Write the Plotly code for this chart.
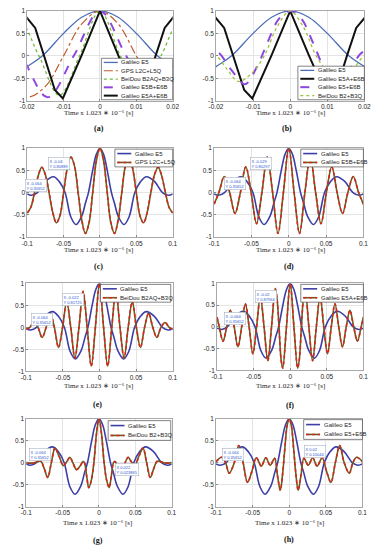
import plotly.graph_objects as go

W, H = 381, 550

# ---------------- data ----------------
E5_X = [-0.1, -0.094, -0.086, -0.075, -0.064, -0.056, -0.048, -0.04, -0.033, -0.025, -0.02, -0.0158, -0.01, -0.005, 0,
        0.005, 0.01, 0.0158, 0.02, 0.025, 0.033, 0.04, 0.048, 0.056, 0.064, 0.075, 0.086, 0.094, 0.1]
E5_Y = [-0.03, -0.06, 0.0, 0.25, 0.357, 0.25, 0.0, -0.55, -0.72, -0.53, -0.24, 0.0, 0.5, 0.86, 1.0,
        0.86, 0.5, 0.0, -0.24, -0.53, -0.72, -0.55, 0.0, 0.25, 0.357, 0.25, 0.0, -0.06, -0.03]

GPS_X = [-0.1, -0.095, -0.09, -0.085, -0.08, -0.075, -0.07, -0.065, -0.06, -0.055, -0.05, -0.045, -0.04, -0.035,
         -0.03, -0.025, -0.02, -0.015, -0.01, -0.005, 0, 0.005, 0.01, 0.015, 0.02, 0.025, 0.03, 0.035, 0.04, 0.045,
         0.05, 0.055, 0.06, 0.065, 0.07, 0.075, 0.08, 0.085, 0.09, 0.095, 0.1]
GPS_Y = [-0.46, -0.33, 0.0, 0.37, 0.57, 0.40, 0.0, -0.44, -0.68, -0.52, 0.0, 0.54, 0.80, 0.60,
         0.0, -0.62, -0.92, -0.68, 0.0, 0.71, 1.0, 0.71, 0.0, -0.68, -0.92, -0.62, 0.0, 0.60, 0.80, 0.54,
         0.0, -0.52, -0.68, -0.44, 0.0, 0.40, 0.57, 0.37, 0.0, -0.33, -0.46]

E5B_E6B_X = [-0.1, -0.0936, -0.0864, -0.0792, -0.072, -0.0648, -0.0576, -0.0504, -0.0432, -0.036, -0.0288, -0.0216,
             -0.0144, -0.0072, 0, 0.0072, 0.0144, 0.0216, 0.0288, 0.036, 0.0432, 0.0504, 0.0576, 0.0648, 0.072,
             0.0792, 0.0864, 0.0936, 0.1]
E5B_E6B_Y = [-0.26, 0.0, 0.36, 0.0, -0.47, 0.0, 0.58, 0.0, -0.70, 0.0, 0.80, 0.0,
             -0.92, 0.0, 1.0, 0.0, -0.92, 0.0, 0.80, 0.0, -0.70, 0.0, 0.58, 0.0, -0.47,
             0.0, 0.36, 0.0, -0.26]

B2AQ_B3Q_X = [-0.1, -0.0952, -0.0896, -0.084, -0.0784, -0.0728, -0.0672, -0.0616, -0.056, -0.0504, -0.0448, -0.0392,
              -0.0336, -0.028, -0.0224, -0.0168, -0.0112, -0.0056, 0, 0.0056, 0.0112, 0.0168, 0.0224, 0.028, 0.0336,
              0.0392, 0.0448, 0.0504, 0.056, 0.0616, 0.0672, 0.0728, 0.0784, 0.084, 0.0896, 0.0952, 0.1]
B2AQ_B3Q_Y = [-0.04, 0.0, 0.11, 0.0, -0.23, 0.0, 0.32, 0.0, -0.46, 0.0, 0.58, 0.0,
              -0.70, 0.0, 0.82, 0.0, -0.88, 0.0, 1.0, 0.0, -0.88, 0.0, 0.82, 0.0, -0.70,
              0.0, 0.58, 0.0, -0.46, 0.0, 0.32, 0.0, -0.23, 0.0, 0.11, 0.0, -0.04]

E5A_E6B_X = [-0.1, -0.0969, -0.0918, -0.0867, -0.0816, -0.0765, -0.0714, -0.0663, -0.0612, -0.0561, -0.051, -0.0459,
             -0.0408, -0.0357, -0.0306, -0.0255, -0.0204, -0.0178, -0.0153, -0.0124, -0.0102, -0.0051, 0,
             0.0051, 0.0102, 0.0124, 0.0153, 0.0178, 0.0204, 0.0255, 0.0306, 0.0357, 0.0408, 0.0459, 0.051,
             0.0561, 0.0612, 0.0663, 0.0714, 0.0765, 0.0816, 0.0867, 0.0918, 0.0969, 0.1]
E5A_E6B_Y = [0.22, 0.0, -0.33, 0.0, 0.38, 0.0, -0.46, 0.0, 0.53, 0.0, -0.62, 0.0,
             0.70, 0.0, -0.78, 0.0, 0.88, 0.62, 0.0, -0.76, -0.95, 0.0, 1.0,
             0.0, -0.95, -0.76, 0.0, 0.62, 0.88, 0.0, -0.78, 0.0, 0.70, 0.0, -0.62,
             0.0, 0.53, 0.0, -0.46, 0.0, 0.38, 0.0, -0.33, 0.0, 0.22]

B2_B3Q_X = [-0.1, -0.09, -0.085, -0.08, -0.075, -0.0705, -0.0655, -0.0605, -0.055, -0.049, -0.044, -0.04, -0.036,
            -0.031, -0.026, -0.022, -0.02, -0.017, -0.014, -0.0105, -0.007, -0.0035, 0,
            0.0035, 0.007, 0.0105, 0.014, 0.017, 0.02, 0.022, 0.026, 0.031, 0.036, 0.04, 0.044, 0.049, 0.055,
            0.0605, 0.0655, 0.0705, 0.075, 0.08, 0.085, 0.09, 0.1]
B2_B3Q_Y = [0.0, -0.01, 0.02, 0.03, -0.15, -0.34, 0.0, 0.33, 0.15, -0.07, 0.03, 0.12, 0.0,
            -0.16, -0.08, 0.024, 0.0, -0.30, -0.57, -0.40, 0.0, 0.65, 1.0,
            0.65, 0.0, -0.40, -0.57, -0.30, 0.0, 0.024, -0.08, -0.16, 0.0, 0.12, 0.03, -0.07, 0.15,
            0.33, 0.0, -0.34, -0.15, 0.03, 0.02, -0.01, 0.0]

E5_E6B_X = [-0.1, -0.092, -0.087, -0.082, -0.075, -0.069, -0.063, -0.057, -0.051, -0.045, -0.038, -0.032, -0.026,
            -0.02, -0.016, -0.0122, -0.009, -0.006, -0.003, 0, 0.003, 0.006, 0.009, 0.0122, 0.016, 0.02, 0.026,
            0.032, 0.038, 0.045, 0.051, 0.057, 0.063, 0.069, 0.075, 0.082, 0.087, 0.092, 0.1]
E5_E6B_Y = [0.02, 0.12, 0.0, -0.24, 0.0, 0.39, 0.0, -0.45, -0.20, 0.11, -0.08, 0.11, -0.06,
            0.10, -0.30, -0.63, -0.25, 0.32, 0.83, 1.0, 0.83, 0.32, -0.25, -0.63, -0.30, 0.10, -0.06,
            0.11, -0.08, 0.11, -0.20, -0.45, 0.0, 0.39, 0.0, -0.24, 0.0, 0.12, 0.02]

Y_TICKS = [-1, -0.5, 0, 0.5, 1]
Y_TICK_LABELS = ["-1", "-0.5", "0", "0.5", "1"]
X_TICKS_NARROW = [-0.02, -0.01, 0, 0.01, 0.02]
X_TICK_LABELS_NARROW = ["-0.02", "-0.01", "0", "0.01", "0.02"]
X_TICKS_WIDE = [-0.1, -0.05, 0, 0.05, 0.1]
X_TICK_LABELS_WIDE = ["-0.1", "-0.05", "0", "0.05", "0.1"]

SERIES = {
    "Galileo E5": (E5_X, E5_Y),
    "GPS L2C+L5Q": (GPS_X, GPS_Y),
    "BeiDou B2AQ+B3Q": (B2AQ_B3Q_X, B2AQ_B3Q_Y),
    "Galileo E5B+E6B": (E5B_E6B_X, E5B_E6B_Y),
    "Galileo E5A+E6B": (E5A_E6B_X, E5A_E6B_Y),
    "Galileo E5+E6B": (E5_E6B_X, E5_E6B_Y),
    "BeiDou B2+B3Q": (B2_B3Q_X, B2_B3Q_Y),
}

# ---------------- styles ----------------
ST = {
    "blueA": [("#4a6db8", 1.3, "solid", "spline")],
    "blue": [("#3b3fa6", 1.6, "solid", "spline")],
    "orange": [("#c05a2a", 1.2, "dashdot", "spline")],
    "green": [("#6fbb3a", 1.3, "dot", "spline")],
    "greenB": [("#9cc43a", 1.3, "dot", "spline")],
    "purple": [("#8e46e0", 2.0, "dash", "spline")],
    "black": [("#111111", 2.0, "solid", "linear")],
    "redolive": [("#6e5a20", 1.6, "solid", "spline"), ("#d3281c", 1.6, "3px,3px", "spline")],
}

PANELS = [
    dict(tag="(a)", box=(21, 172, 7, 98), narrow=True,
         series=[("Galileo E5", "blueA"), ("GPS L2C+L5Q", "orange"), ("BeiDou B2AQ+B3Q", "green"),
                 ("Galileo E5B+E6B", "purple"), ("Galileo E5A+E6B", "black")],
         legend=(98, 172, 55, 97), xl=(95, 110.5), lab=(95, 126), tips=[]),
    dict(tag="(b)", box=(217, 371, 7, 98), narrow=True,
         series=[("Galileo E5", "blueA"), ("Galileo E5A+E6B", "black"), ("Galileo E5+E6B", "purple"),
                 ("BeiDou B2+B3Q", "greenB")],
         legend=(302, 371, 63, 97), xl=(294, 110.5), lab=(291, 126), tips=[]),
    dict(tag="(c)", box=(21, 172, 146, 236), narrow=False,
         series=[("Galileo E5", "blue"), ("GPS L2C+L5Q", "redolive")],
         legend=(112, 172, 147, 165), xl=(95, 249.5), lab=(95, 266),
         tips=[(43, 155, "X -0.04<br>Y 0.80889"), (19, 177, "X -0.064<br>Y 0.35652")]),
    dict(tag="(d)", box=(215, 370, 146, 236), narrow=False,
         series=[("Galileo E5", "blue"), ("Galileo E5B+E6B", "redolive")],
         legend=(305, 370, 147, 165), xl=(294, 249.5), lab=(293, 266),
         tips=[(252, 155, "X -0.029<br>Y 0.80297"), (225, 175, "X -0.064<br>Y 0.35652")]),
    dict(tag="(e)", box=(20, 172, 283, 372), narrow=False,
         series=[("Galileo E5", "blue"), ("BeiDou B2AQ+B3Q", "redolive")],
         legend=(97, 170, 284, 302), xl=(95, 386.5), lab=(94, 406),
         tips=[(57, 293, "X -0.022<br>Y 0.81725"), (25, 313, "X -0.064<br>Y 0.35652")]),
    dict(tag="(f)", box=(218, 370, 283, 371), narrow=False,
         series=[("Galileo E5", "blue"), ("Galileo E5A+E6B", "redolive")],
         legend=(305, 370, 284, 302), xl=(294, 386.5), lab=(294, 407),
         tips=[(257, 290, "X -0.02<br>Y 0.87964"), (225, 312, "X -0.064<br>Y 0.35652")]),
    dict(tag="(g)", box=(20, 171, 420, 509), narrow=False,
         series=[("Galileo E5", "blue"), ("BeiDou B2+B3Q", "redolive")],
         legend=(105, 170, 422, 442), xl=(94, 526), lab=(94, 543),
         tips=[(23, 450, "X -0.064<br>Y 0.35652"), (112, 465, "X 0.022<br>Y 0.023865")]),
    dict(tag="(h)", box=(217, 369, 420, 509), narrow=False,
         series=[("Galileo E5", "blue"), ("Galileo E5+E6B", "redolive")],
         legend=(308, 369, 421, 441), xl=(293, 526), lab=(293, 542),
         tips=[(223, 450, "X -0.064<br>Y 0.35652"), (308, 447, "X 0.02<br>Y 0.10044")]),
]


def fx(p):
    return p / W


def fy(p):
    return 1 - p / H


fig = go.Figure()
shapes = []
annotations = []
layout_axes = {}

TICK_FONT = dict(family="Liberation Sans, Arial", size=6.5, color="#262626")
XLABEL = "Time x 1.023 \u2217 10\u207b\u2076 [s]"

for i, P in enumerate(PANELS):
    n = i + 1
    xa = "x" if n == 1 else f"x{n}"
    ya = "y" if n == 1 else f"y{n}"
    l, r, t, b = P["box"]
    if P["narrow"]:
        xr, tv, tt = [-0.02, 0.02], X_TICKS_NARROW, X_TICK_LABELS_NARROW
    else:
        xr, tv, tt = [-0.1, 0.1], X_TICKS_WIDE, X_TICK_LABELS_WIDE
    common = dict(showgrid=True, gridcolor="#e4e4e4", gridwidth=0.6, zeroline=False, showline=True,
                  mirror=True, linecolor="#a8a8a8", linewidth=0.8, ticks="inside", ticklen=2,
                  tickcolor="#888888", tickfont=TICK_FONT)
    layout_axes["xaxis" if n == 1 else f"xaxis{n}"] = dict(
        domain=[fx(l), fx(r)], range=xr, anchor=ya, tickvals=tv, ticktext=tt, **common)
    layout_axes["yaxis" if n == 1 else f"yaxis{n}"] = dict(
        domain=[fy(b), fy(t)], range=[-1, 1], anchor=xa, tickvals=Y_TICKS, ticktext=Y_TICK_LABELS, **common)

    for name, sk in P["series"]:
        xs, ys = SERIES[name]
        for color, width, dash, shape in ST[sk]:
            fig.add_trace(go.Scatter(x=xs, y=ys, xaxis=xa, yaxis=ya, mode="lines", showlegend=False,
                                     line=dict(color=color, width=width, dash=dash, shape=shape, smoothing=1.0),
                                     hoverinfo="skip"))

    # custom legend
    ll, lr, lt, lb = P["legend"]
    shapes.append(dict(type="rect", xref="paper", yref="paper", x0=fx(ll), x1=fx(lr), y0=fy(lb), y1=fy(lt),
                       fillcolor="white", line=dict(color="#333333", width=0.6), layer="above"))
    ne = len(P["series"])
    rowh = (lb - lt) / ne
    for k, (name, sk) in enumerate(P["series"]):
        cy = lt + rowh * (k + 0.5)
        for color, width, dash, shape in ST[sk]:
            shapes.append(dict(type="line", xref="paper", yref="paper", x0=fx(ll + 2.5), x1=fx(ll + 17),
                               y0=fy(cy), y1=fy(cy), layer="above",
                               line=dict(color=color, width=width, dash=dash)))
        annotations.append(dict(x=fx(ll + 18.5), y=fy(cy), xref="paper", yref="paper", text=name,
                                showarrow=False, xanchor="left", yanchor="middle",
                                font=dict(family="Liberation Sans, Arial", size=6, color="#262626")))

    # x label and panel tag
    annotations.append(dict(x=fx(P["xl"][0]), y=fy(P["xl"][1]), xref="paper", yref="paper",
                            text=XLABEL, showarrow=False, xanchor="center", yanchor="middle",
                            font=dict(family="Liberation Serif, Times New Roman", size=7, color="#262626")))
    annotations.append(dict(x=fx(P["lab"][0]), y=fy(P["lab"][1]), xref="paper", yref="paper",
                            text=P["tag"], showarrow=False, xanchor="center", yanchor="middle",
                            font=dict(family="Liberation Serif, Times New Roman", size=8, color="#111111",
                                      weight="bold")))
    # data tips
    for (tx, ty, txt) in P["tips"]:
        annotations.append(dict(x=fx(tx), y=fy(ty), xref="paper", yref="paper", text=txt, showarrow=False,
                                xanchor="left", yanchor="top", align="left", bgcolor="white",
                                bordercolor="#9aa6b8", borderwidth=0.5, borderpad=1,
                                font=dict(family="Liberation Sans, Arial", size=4, color="#2d55d0")))

fig.update_layout(
    width=W, height=H, margin=dict(l=0, r=0, t=0, b=0),
    paper_bgcolor="white", plot_bgcolor="white", showlegend=False,
    shapes=shapes, annotations=annotations, **layout_axes,
)

fig.write_html("out.html", config={"displayModeBar": False},
               post_script="document.body.style.margin='0';document.body.style.padding='0';")
